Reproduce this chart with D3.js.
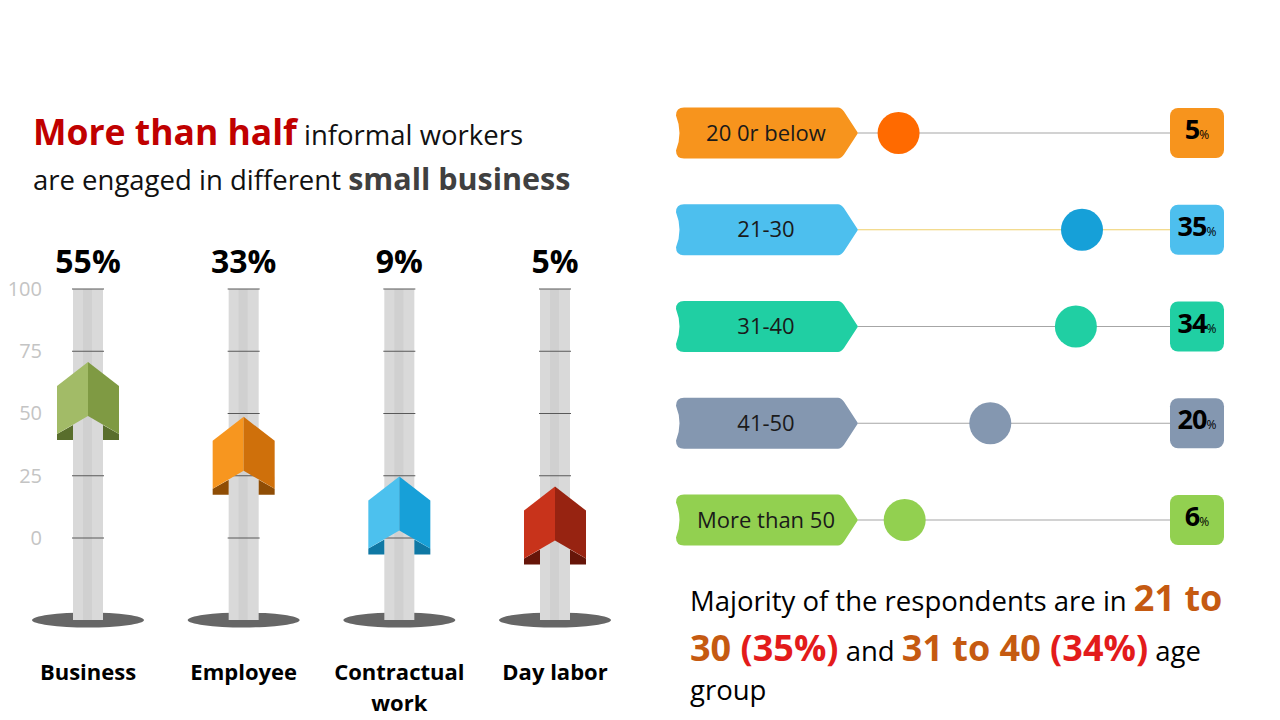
<!DOCTYPE html>
<html>
<head>
<meta charset="utf-8">
<script src="https://cdn.jsdelivr.net/npm/d3@7"></script>
<style>
  html, body { margin: 0; padding: 0; background: #fff; }
  svg { display: block; font-family: "Open Sans", Lato, sans-serif; }
</style>
</head>
<body>
<svg id="chart" width="1280" height="720"></svg>
<script>
// work type data (left panel)
const categories = ["Business", "Employee", "Contractual work", "Day labor"];
const shares = [55, 33, 9, 5];
const ticks = [0, 25, 50, 75, 100];
const arrowColors = [
  ["#a2bb67", "#7f9a43", "#596e2c"],
  ["#f7961f", "#cf700b", "#8f4d05"],
  ["#4cc1ee", "#17a0d8", "#0f78a4"],
  ["#c8331b", "#972311", "#661509"]
];

// age group data (right panel)
const ageGroups = ["20 0r below", "21-30", "31-40", "41-50", "More than 50"];
const ageShares = [5, 35, 34, 20, 6];
const tagColors = ["#f7941d", "#4dbfee", "#20cfa3", "#8497b0", "#92d050"];
const dotColors = ["#ff6a00", "#16a0d8", "#20cfa3", "#8497b0", "#92d050"];
const lineColors = ["#a6a6a6", "#efcf6a", "#a6a6a6", "#a6a6a6", "#a6a6a6"];

const svg = d3.select("#chart");

// ---------- title ----------
const title = svg.append("text").attr("x", 33).attr("y", 145);
title.append("tspan").text("More than half")
  .attr("font-weight", 700).attr("font-size", 35.5).attr("fill", "#c00000");
title.append("tspan").text(" informal workers")
  .attr("font-size", 27.5).attr("fill", "#111");

const title2 = svg.append("text").attr("x", 33).attr("y", 190);
title2.append("tspan").text("are engaged in different ")
  .attr("font-size", 27.5).attr("fill", "#111");
title2.append("tspan").text("small business")
  .attr("font-weight", 700).attr("font-size", 30.5).attr("fill", "#404040");

// ---------- thermometer chart ----------
const x = d3.scalePoint()
  .domain(categories)
  .range([88, 555]);

const y = d3.scaleLinear()
  .domain([0, 100])
  .range([538, 289]);

const poleW = 30, poleBottom = 620;

// axis labels
const yAxis = svg.append("g")
  .attr("transform", "translate(42,0)")
  .call(d3.axisLeft(y).tickValues(ticks).tickSize(0).tickPadding(0))
  .call(g => g.select(".domain").remove());
yAxis.selectAll("text")
  .attr("font-size", 20)
  .attr("fill", "#c4c4c4")
  .attr("font-family", "'Open Sans', sans-serif");

const cols = svg.append("g")
  .selectAll("g")
  .data(categories)
  .join("g")
    .attr("transform", d => `translate(${x(d)},0)`);

// shadow
cols.append("ellipse")
  .attr("cx", 0).attr("cy", poleBottom)
  .attr("rx", 56).attr("ry", 7.5)
  .attr("fill", "#666");

// pole
cols.append("rect")
  .attr("x", -poleW / 2).attr("y", y(100))
  .attr("width", poleW).attr("height", poleBottom - y(100))
  .attr("fill", "#d9d9d9");
cols.append("rect")
  .attr("x", -5).attr("y", y(100))
  .attr("width", 9).attr("height", poleBottom - y(100))
  .attr("fill", "#d0d0d0");

// tick lines on the pole
cols.selectAll("line")
  .data(ticks)
  .join("line")
    .attr("x1", -poleW / 2 - 1).attr("x2", poleW / 2 + 1)
    .attr("y1", d => y(d)).attr("y2", d => y(d))
    .attr("stroke", "#595959").attr("stroke-width", 1);

// chevron marker centred on the value
const hw = 31, pw = poleW / 2;
cols.each(function (d, i) {
  const g = d3.select(this);
  const c = y(shares[i]);
  const col = arrowColors[i];
  // underside
  g.append("path")
    .attr("d", `M${-hw},${c + 33} L${-pw},${c + 24} L${-pw},${c + 39} L${-hw},${c + 39} Z`)
    .attr("fill", col[2]);
  g.append("path")
    .attr("d", `M${hw},${c + 33} L${pw},${c + 24} L${pw},${c + 39} L${hw},${c + 39} Z`)
    .attr("fill", col[2]);
  // left face
  g.append("path")
    .attr("d", `M${-hw},${c - 15} L0,${c - 39} L0,${c + 15} L${-hw},${c + 33} Z`)
    .attr("fill", col[0]);
  // right face
  g.append("path")
    .attr("d", `M${hw},${c - 15} L0,${c - 39} L0,${c + 15} L${hw},${c + 33} Z`)
    .attr("fill", col[1]);
  // value label
  g.append("text")
    .attr("y", 273)
    .attr("text-anchor", "middle")
    .attr("font-size", 32).attr("font-weight", 700).attr("fill", "#000")
    .text(shares[i] + "%");
});

// category labels
cols.append("text")
  .attr("text-anchor", "middle")
  .attr("font-size", 22).attr("font-weight", 700).attr("fill", "#000")
  .selectAll("tspan")
  .data(d => d === "Contractual work" ? ["Contractual", "work"] : [d])
  .join("tspan")
    .attr("x", 0)
    .attr("y", (d, i) => 680 + i * 31)
    .text(d => d);

// ---------- age group dot chart ----------
const ry = d3.scalePoint()
  .domain(ageGroups)
  .range([133, 520]);

const rx = d3.scaleLinear()
  .domain([0, 35])
  .range([868, 1082]);

const tagL = 676, tagR = 858, tagH = 51, boxL = 1170, boxW = 54;

function tagPath(cy) {
  const t = cy - tagH / 2, b = cy + tagH / 2;
  return `M${tagL + 8},${t} L${tagR - 20},${t} Q${tagR - 17},${t} ${tagR - 14},${t + 4}
    L${tagR},${cy} L${tagR - 14},${b - 4} Q${tagR - 17},${b} ${tagR - 20},${b}
    L${tagL + 8},${b} Q${tagL},${b} ${tagL},${b - 8}
    Q${tagL + 7},${cy} ${tagL},${t + 8} Q${tagL},${t} ${tagL + 8},${t} Z`;
}

const rows = svg.append("g")
  .selectAll("g")
  .data(ageGroups)
  .join("g");

rows.append("line")
  .attr("x1", tagR).attr("x2", boxL)
  .attr("y1", d => ry(d)).attr("y2", d => ry(d))
  .attr("stroke", (d, i) => lineColors[i]).attr("stroke-width", 1.2);

rows.append("path")
  .attr("d", d => tagPath(ry(d)))
  .attr("fill", (d, i) => tagColors[i]);

rows.append("text")
  .attr("x", 766).attr("y", d => ry(d))
  .attr("dy", "0.35em")
  .attr("text-anchor", "middle")
  .attr("font-size", 22).attr("fill", "#1a1a1a")
  .text(d => d);

rows.append("circle")
  .attr("cx", (d, i) => rx(ageShares[i]))
  .attr("cy", d => ry(d))
  .attr("r", 21)
  .attr("fill", (d, i) => dotColors[i]);

rows.append("rect")
  .attr("x", boxL).attr("y", d => ry(d) - 25)
  .attr("width", boxW).attr("height", 50)
  .attr("rx", 8)
  .attr("fill", (d, i) => tagColors[i]);

const boxText = rows.append("text")
  .attr("x", boxL + boxW / 2).attr("y", d => ry(d))
  .attr("dy", "0.38em")
  .attr("text-anchor", "middle")
  .attr("fill", "#000");
boxText.append("tspan")
  .attr("font-size", 27).attr("font-weight", 700)
  .attr("letter-spacing", -1)
  .text((d, i) => ageShares[i]);
boxText.append("tspan")
  .attr("font-size", 12)
  .text("%");

// ---------- summary ----------
const summary = [
  [["Majority of the respondents are in ", "#000", false], ["21 to", "#c55a11", true]],
  [["30 ", "#c55a11", true], ["(35%)", "#e31b1b", true], [" and ", "#000", false],
   ["31 to 40 ", "#c55a11", true], ["(34%)", "#e31b1b", true], [" age", "#000", false]],
  [["group", "#000", false]]
];
const baselines = [611, 661, 700];

summary.forEach((line, li) => {
  const t = svg.append("text").attr("x", 690).attr("y", baselines[li]);
  line.forEach(([txt, color, isBold]) => {
    t.append("tspan")
      .attr("fill", color)
      .attr("font-size", isBold ? 36 : 27.5)
      .attr("font-weight", isBold ? 700 : 400)
      .attr("xml:space", "preserve")
      .text(txt);
  });
});
</script>
</body>
</html>
